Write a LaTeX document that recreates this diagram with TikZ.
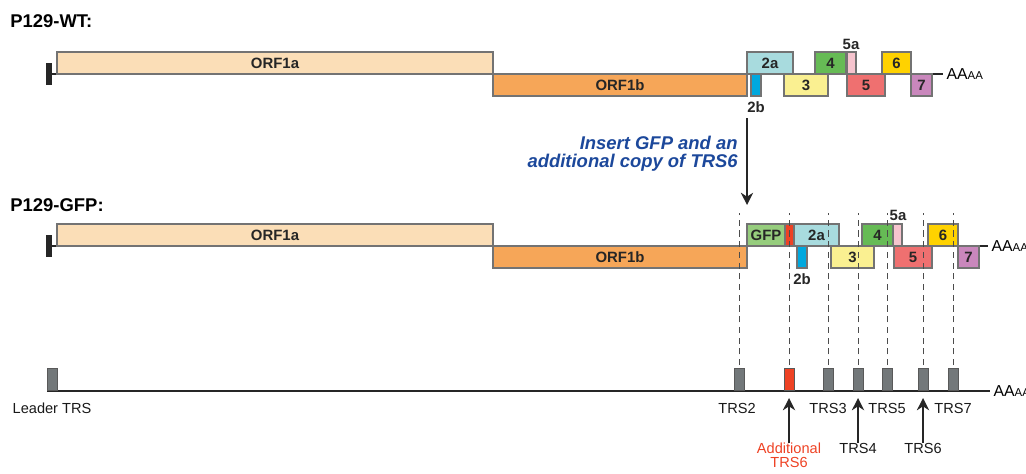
\documentclass[tikz,border=0pt]{standalone}
\usepackage{fontspec}
\setmainfont{Liberation Sans}
\usetikzlibrary{arrows.meta}

\definecolor{orfa}{RGB}{251,222,183}
\definecolor{orfb}{RGB}{246,166,88}
\definecolor{twoa}{RGB}{168,219,222}
\definecolor{twob}{RGB}{0,168,222}
\definecolor{three}{RGB}{250,240,145}
\definecolor{four}{RGB}{102,187,85}
\definecolor{fivea}{RGB}{246,196,206}
\definecolor{five}{RGB}{239,112,112}
\definecolor{six}{RGB}{255,210,0}
\definecolor{seven}{RGB}{201,135,188}
\definecolor{gfpgreen}{RGB}{150,205,125}
\definecolor{trsred}{RGB}{238,66,36}
\definecolor{trsgray}{RGB}{115,120,122}
\definecolor{insblue}{RGB}{28,72,155}

\newcommand{\polyA}{{\fontsize{9}{10}\selectfont AA}{\fontsize{6.5}{7}\selectfont AA}}

\begin{document}
\begin{tikzpicture}[x=0.02cm, y=-0.02cm,
    >={Stealth[length=7pt, width=7pt]},
    genome/.style={line width=1.1pt, draw=black!85},
    gene/.style={draw=black!55, line width=0.6pt},
    trs/.style={draw=black!65, fill=trsgray, line width=0.5pt,
        minimum width=0.2cm, minimum height=0.44cm, inner sep=0pt},
    lbl/.style={font=\fontsize{8.5}{10}\selectfont\bfseries, text=black!85, inner sep=0pt},
    trslbl/.style={font=\fontsize{8.3}{10}\selectfont, text=black!90, inner sep=0pt},
    title/.style={font=\fontsize{10.5}{12}\selectfont\bfseries, anchor=west, inner sep=0pt},
    guide/.style={draw=black!70, line width=0.5pt, dash pattern=on 3.5pt off 2.6pt}]

    \useasboundingbox (0,0) rectangle (1026,473);

    % Titles
    \node[title] (wt) at (10,21) {P129-WT:};
    \node[title] (gfp) at (10,205) {P129-GFP:};

    % P129-WT genome
    \draw[genome] (52,74) -- (943,74) node[anchor=west, inner sep=1.5pt] (wtA) {\polyA};
    \fill[black!85] (46,63) rectangle (52,85);
    \foreach \xa/\xb/\c/\t [count=\i] in {57/493/orfa/ORF1a, 747/793/twoa/2a,
        815/846/four/4, 847/856/fivea/{}, 882/911/six/6} {
        \draw[gene, fill=\c] (\xa,52) rectangle (\xb,74);
        \node[lbl] (wtu\i) at ({(\xa+\xb)/2},63) {\t};
    }
    \foreach \xa/\xb/\c/\t [count=\i] in {493/747/orfb/ORF1b, 751/761/twob/{},
        784/828/three/3, 847/885/five/5, 911/932/seven/7} {
        \draw[gene, fill=\c] (\xa,74) rectangle (\xb,96);
        \node[lbl] (wtd\i) at ({(\xa+\xb)/2},85) {\t};
    }
    \node[lbl] (wt2b) at (756,107) {2b};
    \node[lbl] (wt5a) at (851,44) {5a};

    % Insertion arrow
    \coordinate (instop) at (747,118);
    \coordinate (insbot) at (747,205);
    \draw[->, line width=0.8pt, black!85] (instop) -- (insbot);
    \node[anchor=east, align=right, inner sep=0pt, text=insblue,
        font=\fontsize{10.5}{10.2}\selectfont\bfseries\itshape] (insert) at (738,154)
        {Insert GFP and an\\additional copy of TRS6};

    % P129-GFP genome
    \draw[genome] (52,246) -- (988,246) node[anchor=west, inner sep=1.5pt] (gfpA) {\polyA};
    \fill[black!85] (46,235) rectangle (52,257);
    \foreach \xa/\xb/\c/\t [count=\i] in {57/493/orfa/ORF1a, 747/785/gfpgreen/GFP,
        785/794/trsred/{}, 794/839/twoa/2a, 862/893/four/4, 893/902/fivea/{},
        928/958/six/6} {
        \draw[gene, fill=\c] (\xa,224) rectangle (\xb,246);
        \node[lbl] (gfpu\i) at ({(\xa+\xb)/2},235) {\t};
    }
    \foreach \xa/\xb/\c/\t [count=\i] in {493/747/orfb/ORF1b, 797/807/twob/{},
        831/874/three/3, 894/932/five/5, 958/979/seven/7} {
        \draw[gene, fill=\c] (\xa,246) rectangle (\xb,268);
        \node[lbl] (gfpd\i) at ({(\xa+\xb)/2},257) {\t};
    }
    \node[lbl] (gfp2b) at (802,279) {2b};
    \node[lbl] (gfp5a) at (898,215) {5a};

    % TRS map
    \draw[genome] (47,391) -- (990,391) node[anchor=west, inner sep=1.5pt] (trsA) {\polyA};
    \node[trs, anchor=south] (trsL) at (52,391) {};
    \foreach \n/\x in {trs2/739, trs6a/789, trs3/828, trs4/858, trs5/887, trs6/923, trs7/953}
        \node[trs, anchor=south] (\n) at (\x,391) {};
    \node[trs, anchor=south, fill=trsred] at (trs6a.south) {};

    % Guides
    \foreach \n in {trs2, trs6a, trs3, trs4, trs5, trs6, trs7}
        \draw[guide] (\n.north) ++(0,-3) -- ++(0,-152);

    % TRS labels
    \node[trslbl] (leadlbl) at (52,408) {Leader TRS};
    \node[trslbl] (lbl2) at (737,408) {TRS2};
    \node[trslbl] (lbl3) at (828,408) {TRS3};
    \node[trslbl] (lbl5) at (887,408) {TRS5};
    \node[trslbl] (lbl7) at (953,408) {TRS7};
    \node[trslbl, text=trsred, align=center, font=\fontsize{8.3}{8}\selectfont,
        anchor=north] (lbl6a) at (789,443) {Additional\\TRS6};
    \node[trslbl, anchor=north] (lbl4) at (858,443) {TRS4};
    \node[trslbl, anchor=north] (lbl6) at (923,443) {TRS6};

    % Arrows to TRS
    \foreach \n/\x in {lbl6a/789, lbl4/858, lbl6/923} {
        \coordinate (tip\n) at (\x,398);
        \draw[->, line width=0.8pt, black!85] (\n) -- (tip\n);
    }
\end{tikzpicture}
\end{document}
